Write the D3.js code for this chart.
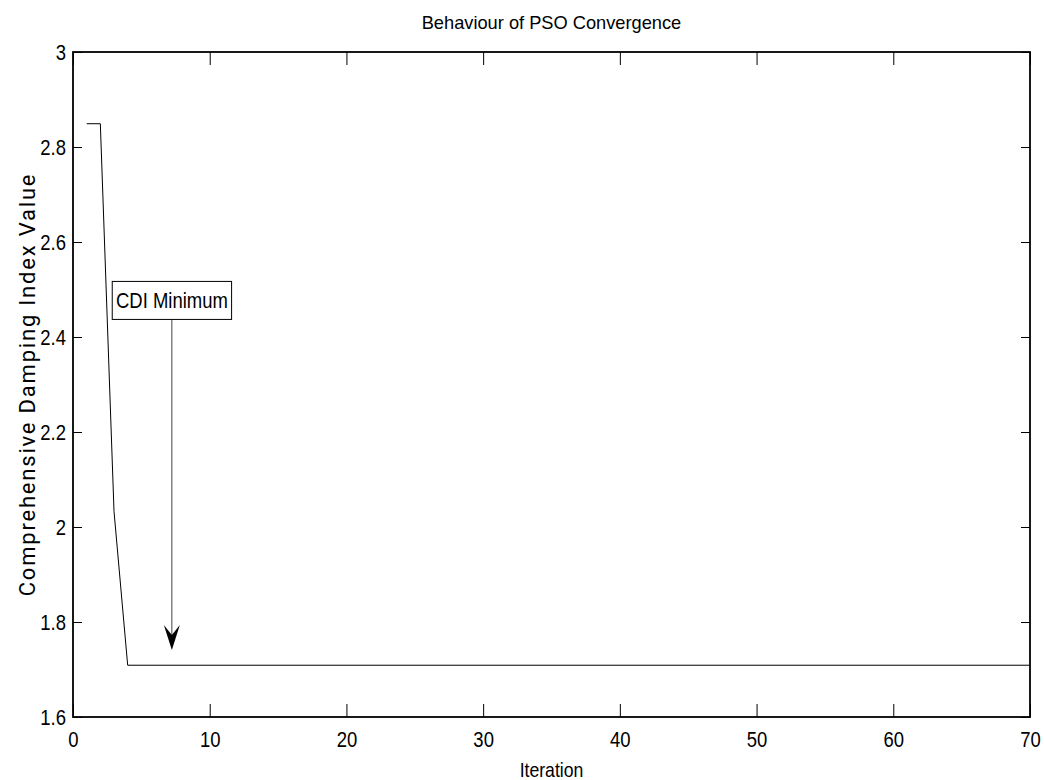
<!DOCTYPE html>
<html>
<head>
<meta charset="utf-8">
<script src="https://cdn.jsdelivr.net/npm/d3@7"></script>
<style>
  body { margin: 0; background: #fff; }
  text { fill: #000; }
</style>
</head>
<body>
<div id="chart"></div>
<script>
// data (value stays flat after iteration 4)
var iterations = [1, 2, 3, 4, 70];
var cdiValues = [2.849, 2.849, 2.033, 1.709, 1.709];
var xTicks = [0, 10, 20, 30, 40, 50, 60, 70];
var yTicks = [1.6, 1.8, 2, 2.2, 2.4, 2.6, 2.8, 3];

var W = 1044, H = 780;
var margin = {top: 52, right: 14, bottom: 63, left: 73};
var width = W - margin.left - margin.right,
    height = H - margin.top - margin.bottom;

var font = "'Liberation Sans', Arial, sans-serif";

// squeeze text horizontally, the reference uses a narrow helvetica
function narrow(sel, k) {
  sel.each(function() {
    var w = this.getComputedTextLength();
    d3.select(this).attr('textLength', w * k).attr('lengthAdjust', 'spacingAndGlyphs');
  });
}

var svg = d3.select('#chart').append('svg')
  .attr('width', W)
  .attr('height', H);

var g = svg.append('g').attr('transform', 'translate(' + margin.left + ',' + margin.top + ')');

var x = d3.scaleLinear().domain([0, 70]).range([0, width]);
var y = d3.scaleLinear().domain([1.6, 3]).range([height, 0]);

// axes, ticks pointing inward, on all four sides
function styleAxis(sel) {
  sel.select('.domain').remove();
  sel.selectAll('line').attr('stroke', '#000').attr('stroke-width', 1);
  sel.selectAll('text').style('font-family', font).style('font-size', '22px').call(narrow, 0.84);
}

g.append('g')
  .attr('transform', 'translate(0,' + height + ')')
  .call(d3.axisBottom(x).tickValues(xTicks).tickSize(-13).tickPadding(14).tickFormat(d3.format('d')))
  .call(styleAxis);

g.append('g')
  .call(d3.axisTop(x).tickValues(xTicks).tickSize(-13).tickFormat(''))
  .call(styleAxis);

g.append('g')
  .call(d3.axisLeft(y).tickValues(yTicks).tickSize(-9).tickPadding(7).tickFormat(function(d) { return d3.format('~g')(d); }))
  .call(styleAxis);

g.append('g')
  .attr('transform', 'translate(' + width + ',0)')
  .call(d3.axisRight(y).tickValues(yTicks).tickSize(-9).tickFormat(''))
  .call(styleAxis);

// box
g.append('rect')
  .attr('x', 0).attr('y', 0)
  .attr('width', width).attr('height', height)
  .attr('fill', 'none')
  .attr('stroke', '#000')
  .attr('stroke-width', 1.8);

// convergence line
var pts = iterations.map(function(d, i) { return [d, cdiValues[i]]; });
g.append('path')
  .datum(pts)
  .attr('fill', 'none')
  .attr('stroke', '#000')
  .attr('stroke-width', 1)
  .attr('d', d3.line().x(function(d) { return x(d[0]); }).y(function(d) { return y(d[1]); }));

// annotation: text box with arrow
var arrowX = 7.23, arrowTip = 1.741, arrowStart = 2.437;
var boxX0 = 2.87, boxX1 = 11.6, boxY0 = 2.517, boxY1 = 2.437;

var ax = x(arrowX), ay = y(arrowTip);
g.append('line')
  .attr('x1', ax).attr('x2', ax)
  .attr('y1', y(arrowStart)).attr('y2', ay - 12)
  .attr('stroke', '#444')
  .attr('stroke-width', 1);

g.append('path')
  .attr('d', 'M' + ax + ',' + ay +
             ' L' + (ax - 8) + ',' + (ay - 25) +
             ' L' + ax + ',' + (ay - 15) +
             ' L' + (ax + 8) + ',' + (ay - 25) + ' Z')
  .attr('fill', '#000');

g.append('rect')
  .attr('x', x(boxX0)).attr('y', y(boxY0))
  .attr('width', x(boxX1) - x(boxX0))
  .attr('height', y(boxY1) - y(boxY0))
  .attr('fill', '#fff')
  .attr('stroke', '#000')
  .attr('stroke-width', 1);

g.append('text')
  .attr('x', (x(boxX0) + x(boxX1)) / 2)
  .attr('y', (y(boxY0) + y(boxY1)) / 2 + 8)
  .attr('text-anchor', 'middle')
  .style('font-family', font)
  .style('font-size', '22px')
  .text('CDI Minimum')
  .call(narrow, 0.84);

// title and labels
svg.append('text')
  .attr('x', margin.left + width / 2)
  .attr('y', 29)
  .attr('text-anchor', 'middle')
  .style('font-family', font)
  .style('font-size', '19px')
  .text('Behaviour of PSO Convergence')
  .call(narrow, 0.96);

svg.append('text')
  .attr('x', margin.left + width / 2)
  .attr('y', 777)
  .attr('text-anchor', 'middle')
  .style('font-family', font)
  .style('font-size', '21px')
  .text('Iteration')
  .call(narrow, 0.84);

svg.append('text')
  .attr('transform', 'translate(35,' + (margin.top + height / 2) + ') rotate(-90)')
  .attr('text-anchor', 'middle')
  .style('font-family', 'Roboto, sans-serif')
  .style('font-size', '22px')
  .style('letter-spacing', '1.8px')
  .text('Comprehensive Damping Index Value');
</script>
</body>
</html>
